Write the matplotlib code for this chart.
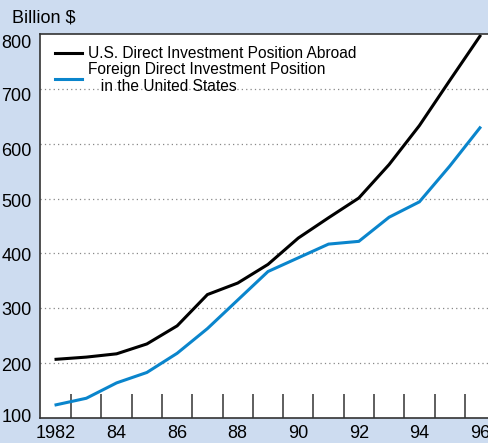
import matplotlib
matplotlib.use("Agg")
import matplotlib.pyplot as plt
import matplotlib.transforms as mtransforms
from matplotlib import font_manager
from matplotlib.ticker import FixedLocator

years = [1982, 1983, 1984, 1985, 1986, 1987, 1988, 1989, 1990, 1991, 1992, 1993, 1994, 1995, 1996]
us_abroad = [207, 211, 217, 235, 268, 325, 346, 380, 428, 465, 501, 562, 633, 715, 796]
foreign_us = [124, 136, 164, 183, 218, 263, 315, 367, 392, 417, 422, 466, 494, 559, 629]
xtick_years = [1982, 1984, 1986, 1988, 1990, 1992, 1994, 1996]
xtick_labels = ["1982", "84", "86", "88", "90", "92", "94", "96"]
yticks = [100, 200, 300, 400, 500, 600, 700, 800]
# small vertical label offsets (pixels, downward) to mimic original typesetting
ylabel_shift_px = [-2, 1, 0, 1, 2, 6, 6, 8]

names = {f.name for f in font_manager.fontManager.ttflist}
base = "Liberation Sans" if "Liberation Sans" in names else "DejaVu Sans"
plt.rcParams['font.family'] = [base, 'DejaVu Sans']

bg = "#cddcf0"
fig = plt.figure(figsize=(4.89, 4.43), dpi=100, facecolor=bg)
ax = fig.add_axes([40/489, 25/443, 449/489, 384/443])
ax.set_facecolor("white")

ax.plot(years, us_abroad, color="black", lw=2.2, solid_joinstyle="miter",
        label="U.S. Direct Investment Position Abroad")
ax.plot(years, foreign_us, color="#0a85cc", lw=2.2, solid_joinstyle="miter",
        label="Foreign Direct Investment Position\n   in the United States")

ax.set_xlim(1981.47, 1996.3)
ax.set_ylim(100, 800)

for v in yticks[1:-1]:
    ax.axhline(v, color="#888888", lw=0.9, ls=(0, (1, 2.5)), zorder=0)

ax.set_yticks(yticks)
ax.tick_params(axis="y", length=0, labelsize=13, pad=6)
ax.set_xticks(xtick_years)
ax.set_xticklabels(xtick_labels)
ax.tick_params(axis="x", which="major", length=0, labelsize=13, pad=5)
ax.xaxis.set_minor_locator(FixedLocator([y + 0.5 for y in range(1982, 1996)]))
ax.tick_params(axis="x", which="minor", direction="in", length=17, width=1.1, color="#333333")

for lab, sh in zip(ax.get_yticklabels(), ylabel_shift_px):
    lab.set_transform(lab.get_transform() +
                      mtransforms.ScaledTranslation(0, -sh / 100, fig.dpi_scale_trans))

for s in ["left", "bottom", "top"]:
    ax.spines[s].set_color("#333333")
    ax.spines[s].set_linewidth(1.2)
ax.spines["right"].set_visible(False)

leg = ax.legend(loc="upper left", bbox_to_anchor=(0.02, 0.985), frameon=False,
                handlelength=1.7, handletextpad=0.4, labelspacing=0.05,
                prop={"size": 11.2}, borderaxespad=0)

fig.text(12/489, 1 - 18/443, "Billion $", fontsize=13, va="center", ha="left")

fig.savefig("out.png", dpi=100, facecolor=bg)
